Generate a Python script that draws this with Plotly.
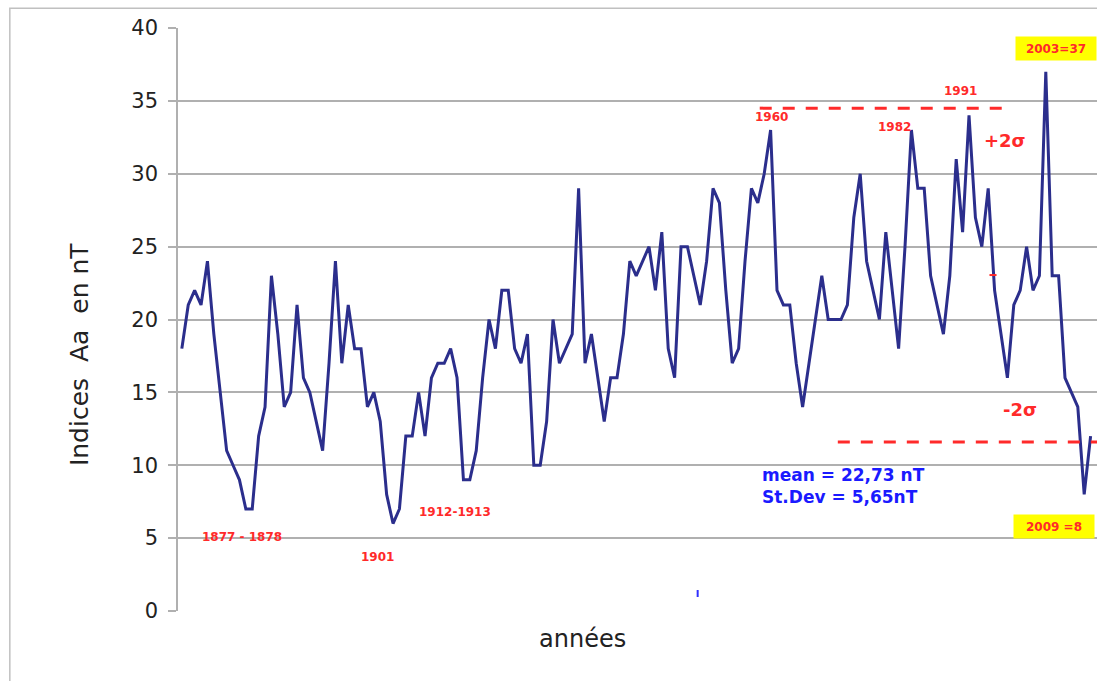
import plotly.graph_objects as go

# ---- data (annual Aa index, nT) ----
years = list(range(1868, 2011))
aa = [
    18, 21, 22, 21, 24, 19, 15, 11, 10, 9,      # 1868-1877
    7, 7, 12, 14, 23, 19, 14, 15, 21, 16,       # 1878-1887
    15, 13, 11, 17, 24, 17, 21, 18, 18, 14,     # 1888-1897
    15, 13, 8, 6, 7, 12, 12, 15, 12, 16,        # 1898-1907
    17, 17, 18, 16, 9, 9, 11, 16, 20, 18,       # 1908-1917
    22, 22, 18, 17, 19, 10, 10, 13, 20, 17,     # 1918-1927
    18, 19, 29, 17, 19, 16, 13, 16, 16, 19,     # 1928-1937
    24, 23, 24, 25, 22, 26, 18, 16, 25, 25,     # 1938-1947
    23, 21, 24, 29, 28, 22, 17, 18, 24, 29,     # 1948-1957
    28, 30, 33, 22, 21, 21, 17, 14, 17, 20,     # 1958-1967
    23, 20, 20, 20, 21, 27, 30, 24, 22, 20,     # 1968-1977
    26, 22, 18, 25, 33, 29, 29, 23, 21, 19,     # 1978-1987
    23, 31, 26, 34, 27, 25, 29, 22, 19, 16,     # 1988-1997
    21, 22, 25, 22, 23, 37, 23, 23, 16, 15,     # 1998-2007
    14, 8, 12                                   # 2008-2010
]

plus2sigma_years = [1958.3, 1996.3]
plus2sigma_value = [34.5, 34.5]
minus2sigma_years = [1970.5, 2011.0]
minus2sigma_value = [11.6, 11.6]

# small stray marks visible in the original
stray_red_years = [1994.2, 1995.3]
stray_red_value = [23.05, 23.05]
stray_blue_years = [1948.6]
stray_blue_value = [1.2]

y_ticks = [0, 5, 10, 15, 20, 25, 30, 35, 40]

FONT = "DejaVu Sans, Verdana, sans-serif"
RED = "#ff2a2a"

fig = go.Figure()
fig.add_trace(go.Scatter(x=years, y=aa, mode="lines",
                         line=dict(color="#2b2e8c", width=3), showlegend=False))
fig.add_trace(go.Scatter(x=plus2sigma_years, y=plus2sigma_value, mode="lines",
                         line=dict(color=RED, width=3, dash="12px,11px"), showlegend=False))
fig.add_trace(go.Scatter(x=minus2sigma_years, y=minus2sigma_value, mode="lines",
                         line=dict(color=RED, width=3, dash="12px,11px"), showlegend=False))
fig.add_trace(go.Scatter(x=stray_red_years, y=stray_red_value, mode="lines",
                         line=dict(color=RED, width=2), showlegend=False))
fig.add_trace(go.Scatter(x=stray_blue_years, y=stray_blue_value, mode="markers",
                         marker=dict(symbol="line-ns", size=5,
                                     line=dict(color="#3030ff", width=2)),
                         showlegend=False))

def red_label(x, y, text, size=12):
    fig.add_annotation(x=x, y=y, xref="x", yref="y", text=f"<b>{text}</b>",
                       showarrow=False, font=dict(family=FONT, size=size, color=RED))

red_label(1877.4, 5.1, "1877 - 1878")
red_label(1898.5, 3.7, "1901")
red_label(1910.7, 6.8, "1912-1913")
red_label(1960.2, 33.9, "1960")
red_label(1979.4, 33.2, "1982")
red_label(1989.7, 35.7, "1991")
red_label(1996.6, 32.3, "+2σ", size=18)
red_label(1998.9, 13.8, "-2σ", size=18)

for (x, y, t) in [(2004.6, 38.6, "2003=37"), (2004.3, 5.8, "2009 =8")]:
    fig.add_annotation(x=x, y=y, xref="x", yref="y", text=f"<b>{t}</b>",
                       showarrow=False, bgcolor="#ffff00", width=78, height=21,
                       font=dict(family=FONT, size=12, color=RED))

fig.add_annotation(x=1958.3, y=8.6, xref="x", yref="y", xanchor="left",
                   align="left", showarrow=False,
                   text="<b>mean = 22,73 nT</b><br><b>St.Dev = 5,65nT</b>",
                   font=dict(family=FONT, size=17, color="#1a1aff"))

# axis titles
fig.add_annotation(x=-0.125, y=0.44, xref="paper", yref="paper", textangle=-90,
                   text="Indices\u00a0 Aa\u00a0 en nT", showarrow=False,
                   font=dict(family=FONT, size=25, color="#222"))
fig.add_annotation(x=0.44, y=-0.075, xref="paper", yref="paper",
                   text="années", showarrow=False,
                   font=dict(family=FONT, size=24, color="#222"))

# outer frame
fig.add_shape(type="rect", xref="paper", yref="paper",
              x0=-0.183, x1=1.2, y0=-0.3, y1=1.034,
              line=dict(color="#c0c0c0", width=1.5), fillcolor="rgba(0,0,0,0)")

fig.update_layout(
    width=1097, height=681,
    margin=dict(l=178, r=0, t=28, b=70),
    paper_bgcolor="white", plot_bgcolor="white",
    font=dict(family=FONT),
    xaxis=dict(range=[1867.4, 2011.0], showticklabels=False, showgrid=False,
               zeroline=False, showline=False, ticks=""),
    yaxis=dict(range=[0, 40], tickvals=y_ticks, showgrid=True,
               gridcolor="#b0b0b0", gridwidth=1.5, zeroline=False,
               showline=True, linecolor="#b0b0b0", linewidth=1.5,
               ticks="outside", ticklen=8, tickcolor="#b0b0b0", tickwidth=1.5,
               tickfont=dict(family=FONT, size=21, color="#222"),
               ticklabelstandoff=6),
)

fig.write_html("out.html", config={"displayModeBar": False},
               post_script="document.body.style.margin='0px';document.body.style.overflow='hidden';")
